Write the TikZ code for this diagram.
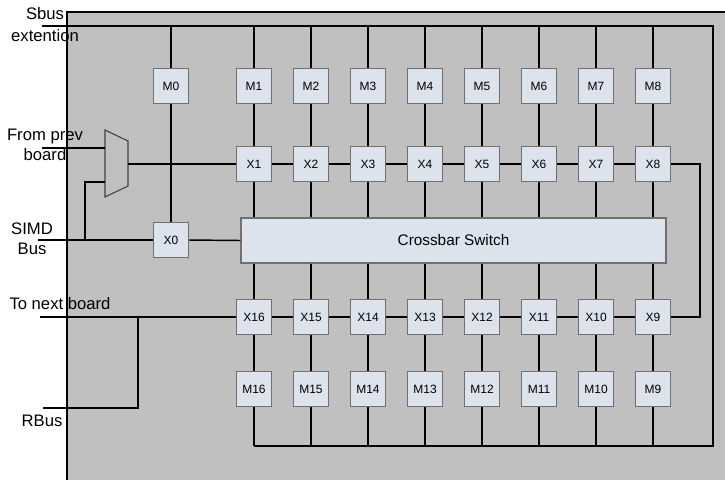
\documentclass[tikz,border=0pt]{standalone}
\usepackage{fontspec}
\setmainfont{Liberation Sans}
\usetikzlibrary{positioning}
\definecolor{BoardGray}{HTML}{C0C0C0}
\definecolor{BoxFill}{HTML}{DCE3ED}
\definecolor{BoxEdge}{HTML}{707070}

\begin{document}
\begin{tikzpicture}[
    x=0.75pt, y=-0.75pt,
    unit/.style={rectangle, draw=BoxEdge, line width=0.8pt, fill=BoxFill, minimum width=26.25pt, minimum height=26.25pt, inner sep=0pt, font=\fontsize{9}{10}\selectfont},
    xbar/.style={rectangle, draw=BoxEdge, line width=0.8pt, fill=BoxFill, minimum width=318.75pt, minimum height=33.75pt, font=\fontsize{11.5}{13}\selectfont},
    lbl/.style={align=center, inner sep=0pt, font=\fontsize{12.5}{15}\selectfont},
    wire/.style={line width=1.1pt, black},
    mux/.style={line width=0.8pt, draw=black!75},
  ]
  \useasboundingbox (0,0) rectangle (725,480);

  % Board
  \fill[BoardGray] (67,12) rectangle (725,480);
  \draw[line width=1pt] (67,480) -- (67,12) -- (725,12);

  % Memories and switches
  \node[unit] (m0) at (171,86) {M0};
  \node[unit] (x0) at (171,240) {X0};
  \foreach \i in {1,...,8} {
    \node[unit] (m\i) at ({254+57*(\i-1)},86) {M\i};
    \node[unit] (x\i) at ({254+57*(\i-1)},164) {X\i};
  }
  \foreach \i [evaluate=\i as \k using int(17-\i)] in {1,...,8} {
    \node[unit] (x\k) at ({254+57*(\i-1)},317) {X\k};
    \node[unit] (m\k) at ({254+57*(\i-1)},389) {M\k};
  }
  \node[xbar] (xbar) at (453.5,240.5) {Crossbar Switch};

  % Labels
  \node[lbl, font=\fontsize{12.5}{16.5}\selectfont] (sbus) at (45,25) {Sbus\\extention};
  \node[lbl] (prev) at (45,145) {From prev\\board};
  \node[lbl] (simd) at (32,239) {SIMD\\Bus};
  \node[lbl] (next) at (60,304) {To next board};
  \node[lbl] (rbus) at (42,421) {RBus};

  % Bus ends and bends
  \coordinate (sbusL) at (42,26);
  \coordinate (sbusR) at (713,26);
  \coordinate (busR) at (713,446);
  \coordinate (rloop) at (700,240);
  \coordinate (prevL) at (42,148);
  \coordinate (simdL) at (38,240);
  \coordinate (simdtap) at (85,240);
  \coordinate (nextL) at (40,317);
  \coordinate (tap) at (138,317);
  \coordinate (rbusL) at (43,408);
  \coordinate (muxin1) at (105,148);
  \coordinate (muxin2) at (105,182);
  \coordinate (muxout) at (128,164);

  % Multiplexer
  \draw[mux] (105,130) -- (128,141) -- (128,186) -- (105,197) -- cycle;

  % Sbus and return bus
  \draw[wire] (sbusL) -- (sbusR) -- (busR) -- (busR -| m16.south);
  \foreach \n in {0,...,8}
    \draw[wire] (m\n.north) -- (m\n.north |- sbusL);
  \foreach \n in {9,...,16}
    \draw[wire] (m\n.south) -- (m\n.south |- busR);

  % Memory to switch to crossbar
  \foreach \i in {1,...,8} {
    \draw[wire] (m\i) -- (x\i);
    \draw[wire] (x\i.south) -- (x\i.south |- xbar.north);
  }
  \foreach \i in {9,...,16} {
    \draw[wire] (x\i.north |- xbar.south) -- (x\i.north);
    \draw[wire] (x\i) -- (m\i);
  }

  % Switch chains
  \draw[wire] (muxout) -- (x1) -- (x2) -- (x3) -- (x4) -- (x5) -- (x6) -- (x7) -- (x8);
  \draw[wire] (x8.east) -| (rloop) |- (x9.east);
  \draw[wire] (x9) -- (x10) -- (x11) -- (x12) -- (x13) -- (x14) -- (x15) -- (x16) -- (nextL);
  \draw[wire] (tap) |- (rbusL);

  % SIMD bus
  \draw[wire] (m0) -- (x0);
  \draw[wire] (simdL) -- (x0.west);
  \draw[wire] (x0.east) -- (xbar.west);
  \draw[wire] (simdtap) |- (muxin2);
  \draw[wire] (prevL) -- (muxin1);

\end{tikzpicture}
\end{document}
